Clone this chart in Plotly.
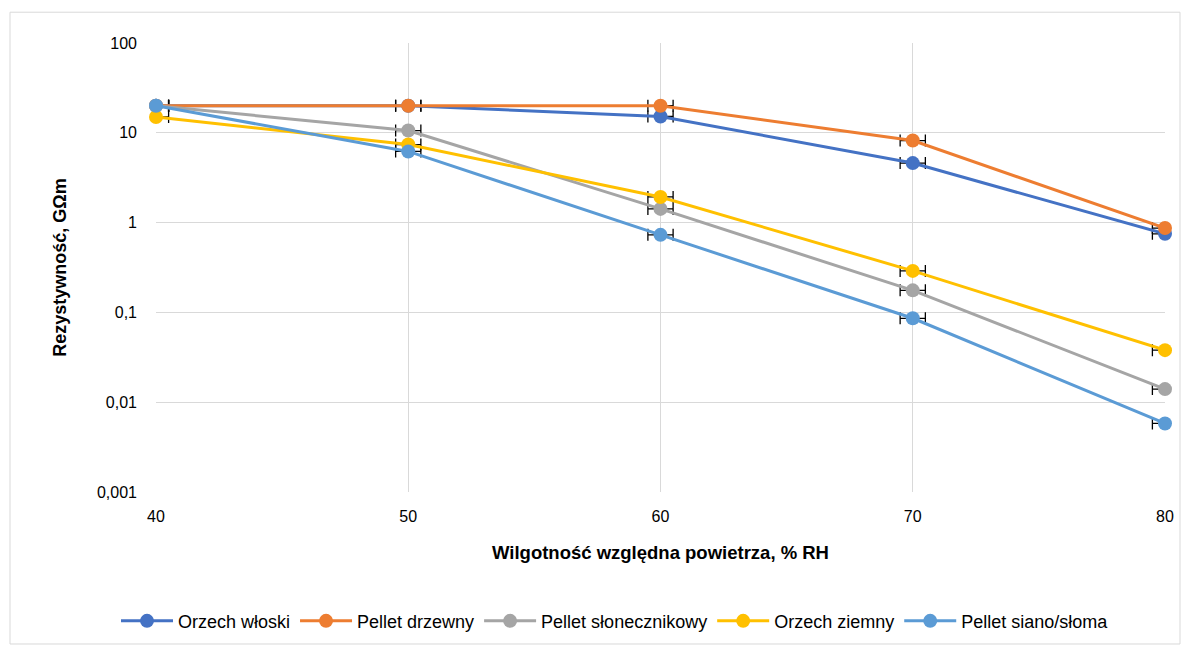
import plotly.graph_objects as go

x_rh = [40, 50, 60, 70, 80]
series_names = ["Orzech włoski", "Pellet drzewny", "Pellet słonecznikowy", "Orzech ziemny", "Pellet siano/słoma"]
orzech_wloski = [20, 20, 15.2, 4.6, 0.75]
pellet_drzewny = [20, 20, 20, 8.2, 0.87]
pellet_slonecznikowy = [20, 10.6, 1.42, 0.176, 0.014]
orzech_ziemny = [15, 7.4, 1.93, 0.29, 0.038]
pellet_siano = [20, 6.2, 0.73, 0.086, 0.0058]
x_err = [0.5, 0.5, 0.5, 0.5, 0.5]
colors = ["#4472C4", "#ED7D31", "#A5A5A5", "#FFC000", "#5B9BD5"]
y_tickvals = [0.001, 0.01, 0.1, 1, 10, 100]
y_ticktext = ["0,001", "0,01", "0,1", "1", "10", "100"]

all_series = [orzech_wloski, pellet_drzewny, pellet_slonecznikowy, orzech_ziemny, pellet_siano]

FONT = "Liberation Sans, Arial"

fig = go.Figure()
# error bars (clipped to plot area)
for name, ys in zip(series_names, all_series):
    fig.add_trace(go.Scatter(
        x=x_rh, y=ys, mode="markers", marker=dict(size=1, opacity=0),
        error_x=dict(type="data", array=x_err, color="#000000", thickness=1.3, width=6),
        showlegend=False, hoverinfo="skip", cliponaxis=True))
# lines + markers
for name, ys, c in zip(series_names, all_series, colors):
    fig.add_trace(go.Scatter(
        x=x_rh, y=ys, mode="lines+markers", name=name,
        line=dict(color=c, width=3), marker=dict(color=c, size=14),
        cliponaxis=False))

W, H = 1191, 652
L, R, T, B = 156, 1165, 43, 495
pw, ph = R - L, B - T
def px(x): return (x - L) / pw
def py(y): return (B - y) / ph

fig.add_shape(type="rect", xref="paper", yref="paper",
              x0=px(10), x1=px(1180), y0=py(12), y1=py(648),
              line=dict(color="#D9D9D9", width=1), fillcolor="rgba(0,0,0,0)", layer="below")

fig.update_layout(
    width=W, height=H,
    margin=dict(l=L, r=W - R, t=T, b=H - B),
    paper_bgcolor="white", plot_bgcolor="white",
    font=dict(family=FONT, size=16, color="#000000"),
    showlegend=True,
    legend=dict(orientation="h", x=px(615), xanchor="center", y=py(625), yanchor="middle",
                font=dict(size=18, color="#000000"), itemwidth=52, traceorder="normal"),
    xaxis=dict(range=[40, 80], tickvals=x_rh, showgrid=True, gridcolor="#D9D9D9", gridwidth=1,
               zeroline=False, showline=False, ticks="", tickfont=dict(size=16), ticklabelstandoff=13,
               title=dict(text="<b>Wilgotność względna powietrza, % RH</b>", font=dict(size=18.5), standoff=22)),
    yaxis=dict(type="log", range=[-3, 2], tickvals=y_tickvals, ticktext=y_ticktext,
               showgrid=True, gridcolor="#D9D9D9", gridwidth=1, zeroline=False, showline=False,
               ticks="", tickfont=dict(size=16), ticklabelstandoff=18,
               title=dict(text="<b>Rezystywność, GΩm</b>", font=dict(size=18), standoff=25)),
)

fig.write_html("out.html")
